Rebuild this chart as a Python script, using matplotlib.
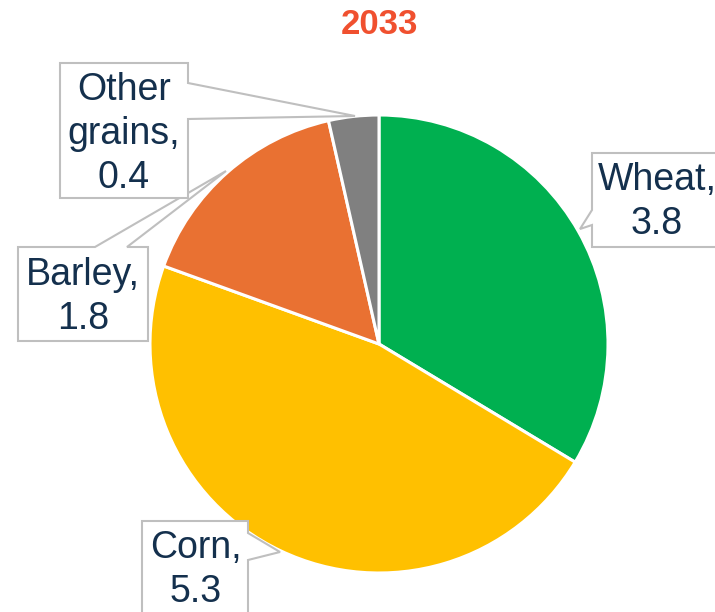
import matplotlib
matplotlib.use("Agg")
import matplotlib.pyplot as plt
from matplotlib.patches import Polygon

crops = ["Wheat", "Corn", "Barley", "Other\ngrains"]
values = [3.8, 5.3, 1.8, 0.4]
colors = ["#00B050", "#FFC000", "#E97132", "#808080"]
title = "2033"

W, H = 715, 612
fig = plt.figure(figsize=(W / 100, H / 100), dpi=100)
ax = fig.add_axes([0, 0, 1, 1])
ax.set_xlim(0, W)
ax.set_ylim(0, H)
ax.set_aspect("equal")
ax.axis("off")

# pie centre / radius in pixel units (y measured from top of image)
cx, cy, r = 379, 344, 229
ax.pie(values, colors=colors, startangle=90, counterclock=False,
       center=(cx, H - cy), radius=r,
       wedgeprops=dict(edgecolor="white", linewidth=2.2))
ax.set_xlim(0, W)
ax.set_ylim(0, H)

ax.text(cx, H - 25, title, ha="center", va="center", fontsize=25,
        fontweight="bold", color="#F0502F", family="Liberation Sans")

# callout outlines, image coords (x, y from top)
callouts = {
    "Wheat": [(592, 153), (720, 153), (720, 247), (592, 247), (592, 225),
              (580, 229), (592, 210)],
    "Corn": [(142, 521), (248, 521), (248, 533), (280, 552), (248, 560),
             (248, 620), (142, 620)],
    "Barley": [(18, 247), (95, 247), (226, 171), (127, 247), (148, 247),
               (148, 341), (18, 341)],
    "Other\ngrains": [(60, 63), (188, 63), (188, 83), (355, 116), (188, 119),
                      (188, 198), (60, 198)],
}
text_pos = {
    "Wheat": (657, 202),
    "Corn": (196, 570),
    "Barley": (83, 297),
    "Other\ngrains": (124, 134),
}

for name, val in zip(crops, values):
    pts = [(x, H - y) for x, y in callouts[name]]
    ax.add_patch(Polygon(pts, closed=True, facecolor="white",
                         edgecolor="#BFBFBF", linewidth=1.5, zorder=3,
                         clip_on=False))
    tx, ty = text_pos[name]
    ax.text(tx, H - ty, f"{name},\n{val}", ha="center", va="center",
            fontsize=27, color="#14304D", family="Liberation Sans",
            linespacing=1.27, zorder=4)

fig.savefig("out.png", dpi=100)
